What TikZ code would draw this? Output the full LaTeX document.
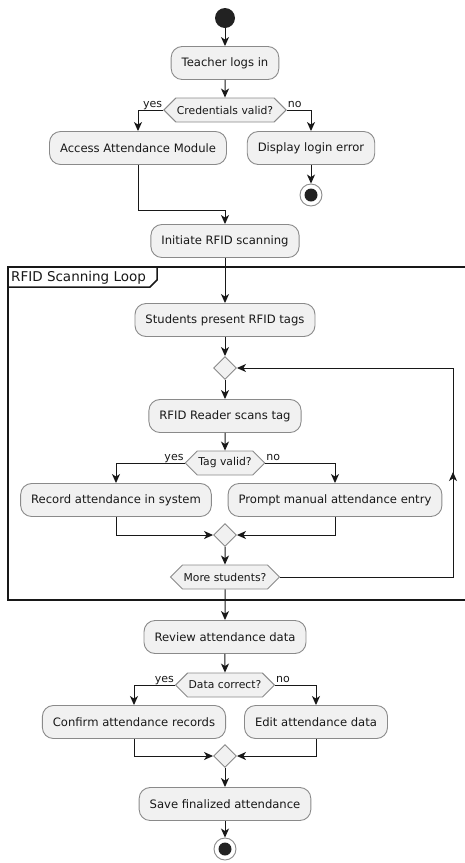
\documentclass[tikz,border=0pt]{standalone}
\usepackage{fontspec}
\setmainfont{DejaVu Sans}
\usetikzlibrary{arrows.meta,shapes.geometric,shapes.symbols,calc}
\definecolor{boxfill}{HTML}{F1F1F1}
\definecolor{boxline}{HTML}{8A8A8A}
\definecolor{arrowc}{HTML}{181818}
\definecolor{startc}{HTML}{222222}
\begin{document}
\begin{tikzpicture}[x=1pt,y=-1pt]
\tikzset{
  act/.style={draw=boxline, line width=0.9pt, fill=boxfill, rounded corners=11pt,
    minimum height=33pt, inner xsep=10.5pt, inner ysep=0pt, text=arrowc,
    font=\fontsize{11.6}{14}\selectfont},
  dec/.style={draw=boxline, line width=0.9pt, fill=boxfill, signal,
    signal to=west and east, signal pointer angle=90, minimum height=24pt,
    inner xsep=1pt, inner ysep=0pt, text=arrowc, font=\fontsize{10.8}{13}\selectfont},
  merge/.style={draw=boxline, line width=0.9pt, fill=boxfill, diamond,
    minimum size=23pt, inner sep=0pt},
  arr/.style={draw=arrowc, line width=1pt, -{Stealth[length=9pt,width=8pt,inset=2.5pt]}},
  lbl/.style={font=\fontsize{11}{13}\selectfont, inner sep=0pt, text=arrowc},
  startnode/.style={circle, fill=startc, minimum size=20pt, inner sep=0pt},
  stopouter/.style={circle, draw=boxline, line width=0.9pt, fill=white, minimum size=22pt, inner sep=0pt},
  stopinner/.style={circle, fill=startc, minimum size=13pt, inner sep=0pt},
  frame/.style={draw=arrowc, line width=1.5pt}
}
\useasboundingbox (0,0) rectangle (465,863);

% loop frame (runs past the right edge)
\draw[frame] (8,267) rectangle (475,600);
\draw[frame] (8,287) -- (150,287) -- (157,280) -- (157,267);
\node[anchor=west, inner sep=0pt, text=arrowc, font=\fontsize{13.5}{15}\selectfont] (looptitle) at (11,277.5) {RFID Scanning Loop};

% login
\node[startnode] (start) at (225,18) {};
\node[act] (login) at (225,63) {Teacher logs in};
\node[dec] (cred) at (225,110) {Credentials valid?};
\node[act] (access) at (138,148) {Access Attendance Module};
\node[act] (err) at (311,148) {Display login error};
\node[stopouter] (stop1) at (311,195) {};
\node[stopinner] (stop1in) at (311,195) {};
\node[act] (init) at (225,241) {Initiate RFID scanning};

\draw[arr] (start) -- (login);
\draw[arr] (login) -- (cred);
\draw[arr] (cred.west) -| (access.north);
\draw[arr] (cred.east) -| (err.north);
\node[lbl, anchor=base east] (yes1) at ($(cred.west)+(-1,-2.5)$) {yes};
\node[lbl, anchor=base west] (no1) at ($(cred.east)+(1,-2.5)$) {no};
\draw[arr] (err) -- (stop1);
\coordinate (j1) at (225,210);
\draw[arr] (access.south) |- (j1) -- (init.north);

% scanning loop
\node[act] (present) at (225,320) {Students present RFID tags};
\node[merge] (m1) at (225,368) {};
\node[act] (scan) at (225,416) {RFID Reader scans tag};
\node[dec] (tag) at (225,463) {Tag valid?};
\node[act] (rec) at (116,500) {Record attendance in system};
\node[act] (manual) at (335,500) {Prompt manual attendance entry};
\node[merge] (m2) at (225,535) {};
\node[dec] (more) at (225,577) {More students?};

\draw[arr] (init) -- (present);
\draw[arr] (present) -- (m1);
\draw[arr] (m1) -- (scan);
\draw[arr] (scan) -- (tag);
\draw[arr] (tag.west) -| (rec.north);
\draw[arr] (tag.east) -| (manual.north);
\node[lbl, anchor=base east] (yes2) at ($(tag.west)+(-1,-2.5)$) {yes};
\node[lbl, anchor=base west] (no2) at ($(tag.east)+(1,-2.5)$) {no};
\draw[arr] (rec.south) |- (m2.west);
\draw[arr] (manual.south) |- (m2.east);
\draw[arr] (m2) -- (more);
\coordinate (c1) at (453,577);
\coordinate (cm) at (453,472);
\coordinate (c2) at (453,368);
\draw[arr] (more.east) -- (c1) -- (c2) -- (m1.east);
\draw[arr] (c1) -- (cm);

% review
\node[act] (review) at (225,637) {Review attendance data};
\node[dec] (correct) at (225,685) {Data correct?};
\node[act] (confirm) at (134,722) {Confirm attendance records};
\node[act] (edit) at (316,722) {Edit attendance data};
\node[merge] (m3) at (225,756) {};
\node[act] (save) at (225,804) {Save finalized attendance};
\node[stopouter] (stop2) at (225,849) {};
\node[stopinner] (stop2in) at (225,849) {};

\draw[arr] (more) -- (review);
\draw[arr] (review) -- (correct);
\draw[arr] (correct.west) -| (confirm.north);
\draw[arr] (correct.east) -| (edit.north);
\node[lbl, anchor=base east] (yes3) at ($(correct.west)+(-1,-2.5)$) {yes};
\node[lbl, anchor=base west] (no3) at ($(correct.east)+(1,-2.5)$) {no};
\draw[arr] (confirm.south) |- (m3.west);
\draw[arr] (edit.south) |- (m3.east);
\draw[arr] (m3) -- (save);
\draw[arr] (save) -- (stop2);
\end{tikzpicture}
\end{document}
